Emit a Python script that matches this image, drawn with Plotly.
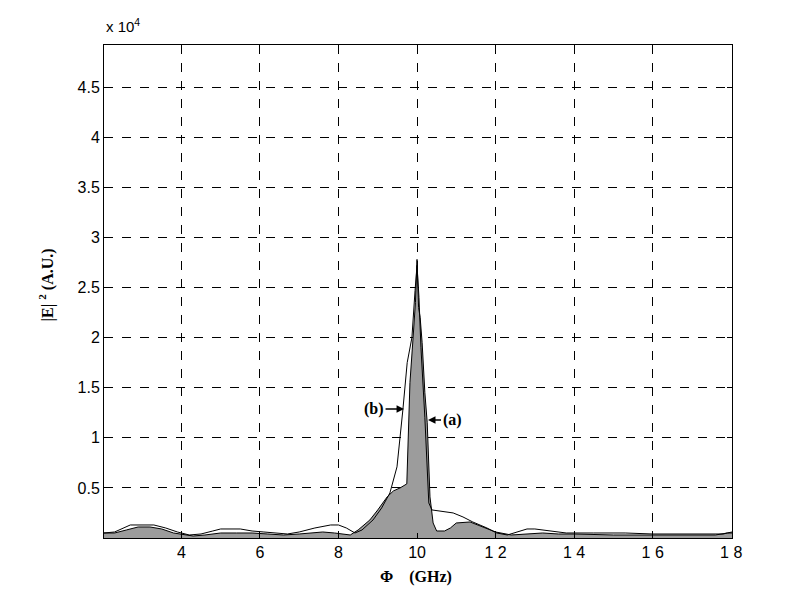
import plotly.graph_objects as go

# Curve (a): shaded spectrum
freq_a = [2.03, 2.3, 2.6, 2.9, 3.2, 3.5, 3.8, 4.1, 4.3, 4.6, 5.0, 5.4, 5.8, 6.2, 6.6, 7.0, 7.3, 7.6,
          7.9, 8.1, 8.3, 8.5, 8.8, 9.0, 9.24, 9.4, 9.57, 9.74, 9.77, 9.82, 9.9, 9.96, 10.0, 10.04,
          10.08, 10.13, 10.2, 10.26, 10.33, 10.41, 10.5, 10.7, 10.85, 11.0, 11.35, 11.7, 12.0,
          12.4, 12.8, 13.2, 13.6, 14.0, 15.0, 16.0, 17.0, 17.6, 17.9, 18.02]
e2_a = [0.05, 0.05, 0.08, 0.11, 0.11, 0.09, 0.05, 0.03, 0.02, 0.03, 0.05, 0.05, 0.05, 0.04, 0.03,
        0.04, 0.05, 0.06, 0.05, 0.04, 0.03, 0.08, 0.18, 0.28, 0.41, 0.47, 0.50, 0.54, 1.0, 1.55,
        2.0, 2.35, 2.78, 2.3, 2.2, 1.95, 1.45, 1.15, 0.41, 0.15, 0.07, 0.07, 0.10, 0.15, 0.16,
        0.11, 0.06, 0.03, 0.04, 0.05, 0.04, 0.04, 0.03, 0.03, 0.03, 0.03, 0.05, 0.06]

# Curve (b): line spectrum
freq_b = [2.03, 2.3, 2.7, 3.0, 3.3, 3.6, 3.9, 4.2, 4.5, 4.8, 5.0, 5.5, 5.8, 6.1, 6.4, 6.7, 7.0,
          7.4, 7.8, 8.0, 8.2, 8.42, 8.6, 8.88, 9.1, 9.31, 9.49, 9.57, 9.64, 9.75, 9.87, 9.95, 10.0,
          10.05, 10.1, 10.2, 10.3, 10.38, 10.6, 10.92, 11.17, 11.42, 11.78, 12.03, 12.3, 12.6,
          12.8, 13.0, 13.2, 13.46, 13.8, 14.5, 15.3, 16.0, 17.0, 17.8, 17.9, 18.02]
e2_b = [0.05, 0.06, 0.13, 0.13, 0.13, 0.10, 0.06, 0.03, 0.04, 0.07, 0.09, 0.09, 0.07, 0.06, 0.05,
        0.04, 0.06, 0.10, 0.13, 0.13, 0.10, 0.05, 0.08, 0.18, 0.30, 0.45, 0.71, 0.98, 1.28, 1.75,
        2.0, 2.47, 2.72, 2.4, 1.9, 1.2, 0.35, 0.28, 0.27, 0.25, 0.21, 0.16, 0.10, 0.05, 0.03,
        0.07, 0.09, 0.09, 0.08, 0.06, 0.05, 0.05, 0.05, 0.04, 0.04, 0.04, 0.05, 0.05]

SCALE = 1e4
x_ticks = [4, 6, 8, 10, 12, 14, 16, 18]
x_ticktext = ["4", "6", "8", "10", "1 2", "1 4", "1 6", "1 8"]
y_ticks = [0.5, 1, 1.5, 2, 2.5, 3, 3.5, 4, 4.5]
y_ticktext = ["0.5", "1", "1.5", "2", "2.5", "3", "3.5", "4", "4.5"]

fig = go.Figure()
fig.add_trace(go.Scatter(
    x=freq_a, y=[v * SCALE for v in e2_a], mode="lines", fill="tozeroy",
    line=dict(color="black", width=1),
    fillcolor="rgb(135,135,135)",
    fillpattern=dict(shape=".", size=2, solidity=0.5, fgcolor="black", bgcolor="rgb(200,200,200)"),
    showlegend=False))
fig.add_trace(go.Scatter(
    x=freq_b, y=[v * SCALE for v in e2_b], mode="lines",
    line=dict(color="black", width=1), showlegend=False))

axis_common = dict(showline=True, linecolor="black", linewidth=1, mirror="ticks",
                   ticks="inside", ticklen=5, tickcolor="black",
                   showgrid=True, gridcolor="black", gridwidth=1, griddash="dash",
                   zeroline=False,
                   tickfont=dict(family="Liberation Sans, Arial", size=16, color="black"))

fig.update_xaxes(range=[2.03, 18.02], tickvals=x_ticks, ticktext=x_ticktext, **axis_common)
fig.update_yaxes(range=[0, 4.92 * SCALE], tickvals=[v * SCALE for v in y_ticks],
                 ticktext=y_ticktext, **axis_common)

serif_bold = dict(family="Liberation Serif, Times New Roman", size=16, color="black")
fig.update_layout(
    width=800, height=600,
    margin=dict(l=104, r=68, t=45, b=62),
    plot_bgcolor="white", paper_bgcolor="white",
    annotations=[
        dict(text="x 10<sup>4</sup>", xref="paper", yref="paper", x=0, y=1,
             xanchor="left", yanchor="bottom", yshift=8, showarrow=False,
             font=dict(family="Liberation Sans, Arial", size=15, color="black")),
        dict(text="<b>Φ&nbsp;&nbsp;&nbsp;&nbsp;(GHz)</b>", xref="paper", yref="paper",
             x=0.497, y=0, xanchor="center", yanchor="middle", yshift=-39,
             showarrow=False, font=serif_bold),
        dict(text="<b>|E|&nbsp;<sup>2</sup> (A.U.)</b>", xref="paper", yref="paper",
             x=0, y=0.5, xanchor="center", yanchor="middle", xshift=-57, yshift=6,
             textangle=-90, showarrow=False, font=serif_bold),
        dict(text="<b>(b)</b>", x=9.67, y=1.287 * SCALE, xref="x", yref="y",
             ax=-30, ay=0, showarrow=True, arrowhead=2, arrowsize=1, arrowwidth=1.5,
             arrowcolor="black", font=serif_bold),
        dict(text="<b>(a)</b>", x=10.28, y=1.177 * SCALE, xref="x", yref="y",
             ax=24, ay=0, showarrow=True, arrowhead=2, arrowsize=1, arrowwidth=1.5,
             arrowcolor="black", font=serif_bold),
    ],
)

fig.write_html("out.html", config={"displayModeBar": False},
               post_script="document.body.style.margin='0';")
